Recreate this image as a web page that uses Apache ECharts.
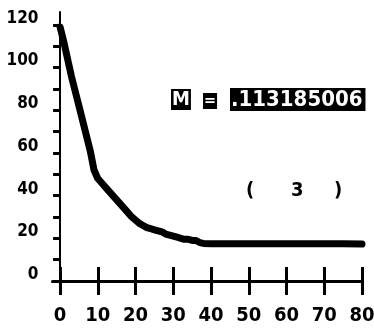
<!DOCTYPE html>
<html>
<head>
<meta charset="utf-8">
<script src="https://cdn.jsdelivr.net/npm/echarts@6/dist/echarts.min.js"></script>
<style>
html,body{margin:0;padding:0;background:#fff;}
#c{width:374px;height:331px;}
</style>
</head>
<body>
<div id="c"></div>
<script>
// Data
const xValues = [0,1,2,3,4,5,6,7,8,9,10,11,12,13,14,15,16,17,18,19,20,21,22,23,24,25,26,27,28,29,30,31,32,33,34,35,36,37,38,40,45,50,55,60,65,70,75,80];
const yValues = [119,112,104,96,89,82,75,68,61,52,48,46,44,42,40,38,36,34,32,30,28.5,27,26,25,24.5,24,23.5,23,22,21.5,21,20.5,20,19.5,19.5,19,19,18,17.6,17.5,17.5,17.5,17.5,17.5,17.5,17.5,17.5,17.3];
const xTicks = [0,10,20,30,40,50,60,70,80];
const yTicks = [0,10,20,30,40,50,60,70,80,90,100,110,120];
const yLabels = [0,20,40,60,80,100,120];
const annotationM = ['M', '=', '.113185006'];
const annotationN = ['(', '3', ')'];

const FONT = "'DejaVu Sans Condensed','Liberation Sans Narrow','Liberation Sans',sans-serif";
const chart = echarts.init(document.getElementById('c'));
const pts = xValues.map((x, i) => [x, yValues[i]]);

chart.setOption({
  backgroundColor: '#fff',
  animation: false,
  grid: {left: 52.5, right: 12, top: 12, bottom: 50, containLabel: false, outerBoundsMode: 'none'},
  xAxis: [
    {
      type: 'value', min: -2, max: 80, position: 'bottom',
      axisLine: {onZero: false, lineStyle: {color: '#000', width: 3}},
      axisTick: {show: true, inside: false, length: 14, customValues: xTicks, lineStyle: {color: '#000', width: 3}},
      axisLabel: {show: true, customValues: xTicks, margin: 25, color: '#000', fontFamily: FONT, fontWeight: 'bold', fontSize: 20},
      splitLine: {show: false}
    },
    {
      type: 'value', min: -2, max: 80, position: 'bottom',
      axisLine: {show: false, onZero: false},
      axisTick: {show: true, inside: true, length: 14, customValues: xTicks, lineStyle: {color: '#000', width: 3}},
      axisLabel: {show: false},
      splitLine: {show: false}
    }
  ],
  yAxis: {
    type: 'value', min: 0, max: 126,
    axisLine: {show: true, onZero: true, lineStyle: {color: '#000', width: 2}},
    axisTick: {show: true, inside: false, length: 7, customValues: yTicks, lineStyle: {color: '#000', width: 3}},
    axisLabel: {show: true, customValues: yLabels, margin: 14, verticalAlign: 'bottom', lineHeight: 13, color: '#000', fontFamily: FONT, fontWeight: 'bold', fontSize: 17},
    splitLine: {show: false}
  },
  series: [{
    type: 'line',
    xAxisIndex: 0,
    data: pts,
    showSymbol: false,
    smooth: false,
    lineStyle: {color: '#000', width: 7, cap: 'round', join: 'round'}
  }],
  graphic: [
    {type: 'text', left: 171, top: 89, style: {text: annotationM[0], fill: '#fff', backgroundColor: '#000', padding: [1,1,0,1], font: 'bold 20px ' + FONT}},
    {type: 'text', left: 203, top: 93, style: {text: annotationM[1], fill: '#fff', backgroundColor: '#000', padding: [0,1,0,1], font: 'bold 16px ' + FONT}},
    {type: 'text', left: 230, top: 88, style: {text: annotationM[2], fill: '#fff', backgroundColor: '#000', padding: [1,3,0,1], font: 'bold 22px ' + FONT}},
    {type: 'text', left: 246, top: 181, style: {text: annotationN[0], fill: '#000', font: 'bold 20px ' + FONT}},
    {type: 'text', left: 291, top: 181, style: {text: annotationN[1], fill: '#000', font: 'bold 20px ' + FONT}},
    {type: 'text', left: 334, top: 181, style: {text: annotationN[2], fill: '#000', font: 'bold 20px ' + FONT}}
  ]
});
</script>
</body>
</html>
